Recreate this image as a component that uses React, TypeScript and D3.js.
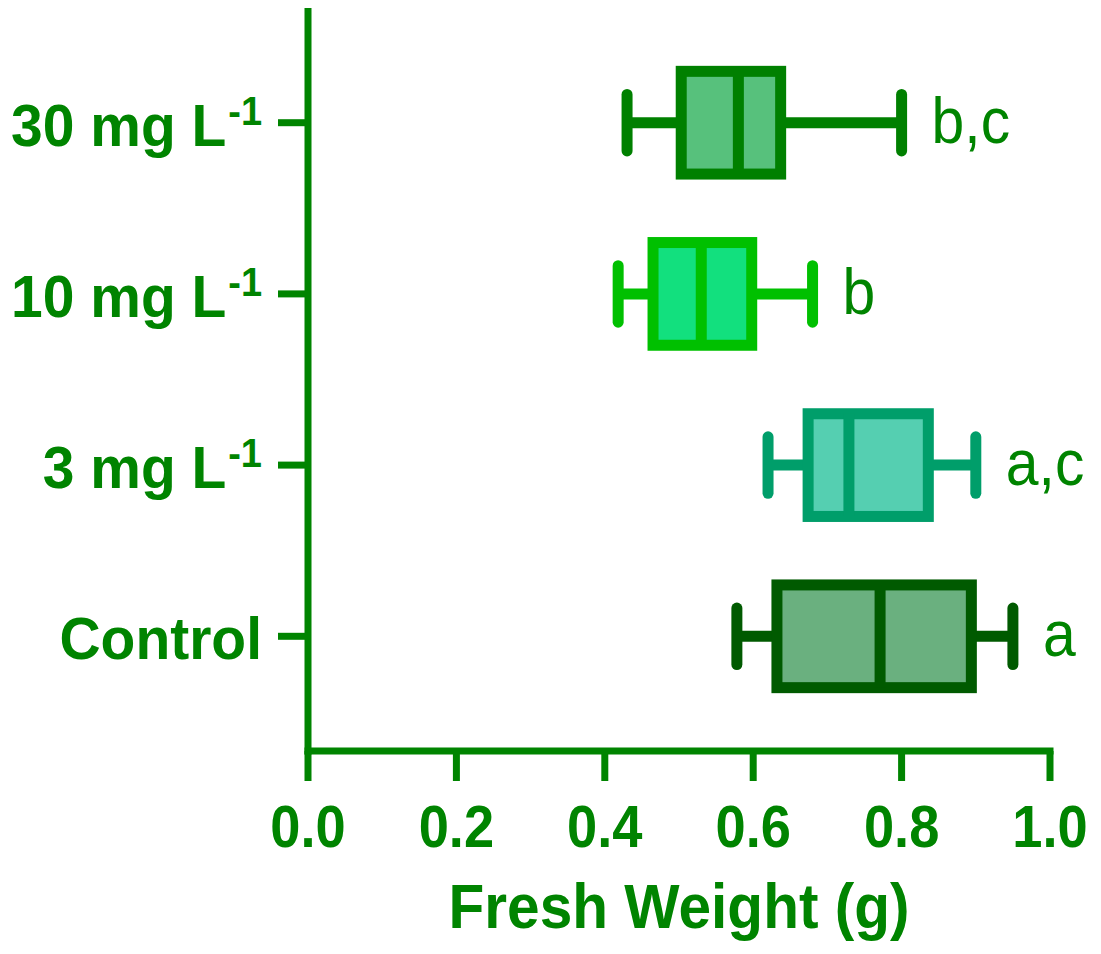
import { useRef, useEffect } from "react";
import * as d3 from "d3";

// groups, bottom to top
const groups = ["Control", "3 mg", "10 mg", "30 mg"];
const labelMain = ["Control", "3 mg L", "10 mg L", "30 mg L"];
const labelSup = ["", "-1", "-1", "-1"];
const mins = [0.578, 0.62, 0.418, 0.43];
const q1s = [0.632, 0.674, 0.465, 0.503];
const medians = [0.771, 0.729, 0.53, 0.58];
const q3s = [0.894, 0.836, 0.598, 0.637];
const maxs = [0.95, 0.9, 0.68, 0.8];
const letters = ["a", "a,c", "b", "b,c"];
const strokes = ["#005a00", "#009e6a", "#00c000", "#008000"];
const fills = ["#6ab07f", "#55cfb1", "#12e07e", "#57c17c"];
const xTicks = [0, 0.2, 0.4, 0.6, 0.8, 1.0];

const W = 1101;
const H = 954;
const AXIS = "#008400";
const FONT = "Liberation Sans, Arial, sans-serif";

export default function App() {
  const svgRef = useRef<SVGSVGElement>(null);

  useEffect(() => {
    if (!svgRef.current) return;
    const svg = d3.select(svgRef.current);
    svg.selectAll("*").remove();

    const left = 308, right = 1050, top = 8, bottom = 751;
    const x = d3.scaleLinear().domain([0, 1]).range([left, right]);
    const y = d3.scalePoint<string>().domain(groups).range([bottom, top]).padding(0.67);
    const boxH = y.step() * 0.6;
    const capH = y.step() * 0.33;

    const rows = groups.map((g, i) => ({
      g, i, min: mins[i], q1: q1s[i], med: medians[i], q3: q3s[i], max: maxs[i],
    }));

    // axes
    const ax = svg.append("g").attr("stroke", AXIS).attr("stroke-width", 7).attr("fill", "none");
    ax.append("line").attr("x1", left).attr("x2", left).attr("y1", top).attr("y2", bottom + 3.5);
    ax.append("line").attr("x1", left - 3.5).attr("x2", right + 3.5).attr("y1", bottom).attr("y2", bottom);
    ax.selectAll(".xt").data(xTicks).join("line")
      .attr("x1", (d) => x(d)).attr("x2", (d) => x(d))
      .attr("y1", bottom).attr("y2", bottom + 30);
    ax.selectAll(".yt").data(groups).join("line")
      .attr("x1", left - 30).attr("x2", left)
      .attr("y1", (d) => y(d)!).attr("y2", (d) => y(d)!);

    // tick labels
    svg.selectAll(".xl").data(xTicks).join("text")
      .attr("transform", (d) => `translate(${x(d)},${847}) scale(0.92,1)`)
      .attr("text-anchor", "middle")
      .attr("font-family", FONT)
      .attr("font-weight", "bold").attr("font-size", 59).attr("fill", AXIS)
      .text((d) => d.toFixed(1));

    const yl = svg.selectAll(".yl").data(rows).join("text")
      .attr("transform", (d) => `translate(${left - 46},${y(d.g)! + 23}) scale(0.95,1)`)
      .attr("text-anchor", "end")
      .attr("font-family", FONT)
      .attr("font-weight", "bold").attr("font-size", 60).attr("fill", AXIS);
    yl.append("tspan").text((d) => labelMain[d.i]);
    yl.filter((d) => labelSup[d.i] !== "").append("tspan")
      .attr("dy", -21).attr("font-size", 40).attr("dx", 2)
      .text((d) => labelSup[d.i]);

    svg.append("text")
      .attr("transform", `translate(${(left + right) / 2},${928}) scale(0.93,1)`)
      .attr("text-anchor", "middle")
      .attr("font-family", FONT)
      .attr("font-weight", "bold").attr("font-size", 63).attr("fill", AXIS)
      .text("Fresh Weight (g)");

    // boxes
    const bx = svg.selectAll(".box").data(rows).join("g")
      .attr("stroke", (d) => strokes[d.i]).attr("stroke-width", 11);
    bx.append("line")
      .attr("x1", (d) => x(d.min)).attr("x2", (d) => x(d.q1))
      .attr("y1", (d) => y(d.g)!).attr("y2", (d) => y(d.g)!);
    bx.append("line")
      .attr("x1", (d) => x(d.q3)).attr("x2", (d) => x(d.max))
      .attr("y1", (d) => y(d.g)!).attr("y2", (d) => y(d.g)!);
    bx.append("line").attr("stroke-linecap", "round")
      .attr("x1", (d) => x(d.min)).attr("x2", (d) => x(d.min))
      .attr("y1", (d) => y(d.g)! - capH / 2).attr("y2", (d) => y(d.g)! + capH / 2);
    bx.append("line").attr("stroke-linecap", "round")
      .attr("x1", (d) => x(d.max)).attr("x2", (d) => x(d.max))
      .attr("y1", (d) => y(d.g)! - capH / 2).attr("y2", (d) => y(d.g)! + capH / 2);
    bx.append("rect")
      .attr("x", (d) => x(d.q1)).attr("width", (d) => x(d.q3) - x(d.q1))
      .attr("y", (d) => y(d.g)! - boxH / 2).attr("height", boxH)
      .attr("fill", (d) => fills[d.i]);
    bx.append("line")
      .attr("x1", (d) => x(d.med)).attr("x2", (d) => x(d.med))
      .attr("y1", (d) => y(d.g)! - boxH / 2).attr("y2", (d) => y(d.g)! + boxH / 2);

    // significance letters
    svg.selectAll(".sig").data(rows).join("text")
      .attr("transform", (d) => `translate(${x(d.max) + 30},${y(d.g)! + 20}) scale(0.92,1)`)
      .attr("font-family", FONT)
      .attr("font-size", 64).attr("fill", AXIS)
      .text((d) => letters[d.i]);
  }, []);

  return (
    <svg ref={svgRef} width={W} height={H}
      style={{ position: "absolute", left: 0, top: 0, background: "#fff" }} />
  );
}
